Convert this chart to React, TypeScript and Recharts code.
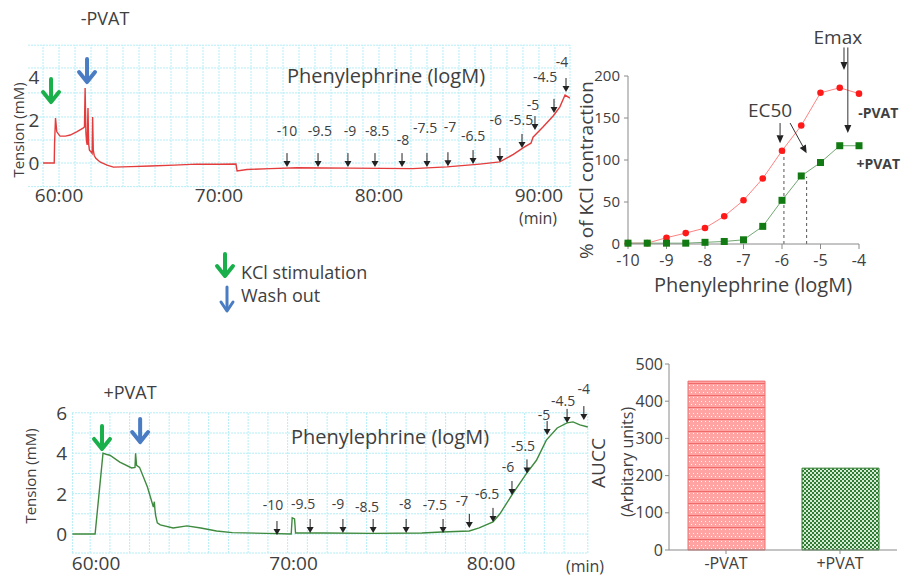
import React from 'react';
import {
  LineChart,
  Line,
  XAxis,
  YAxis,
  ReferenceLine,
  ReferenceDot,
  BarChart,
  Bar,
  Cell,
} from 'recharts';

const W = 904;
const H = 579;
const FONT = '"Open Sans", Lato, sans-serif';
const INK = '#404040';

// -PVAT tension trace (min, mN)
const topTime = [59.0, 59.7, 59.72, 59.78, 59.86, 60.06, 60.4, 60.7, 61.1, 61.5, 61.59, 61.63, 61.68, 61.72, 61.76, 61.81, 61.85, 61.9, 62.02, 62.07, 62.1, 62.14, 62.2, 62.3, 62.56, 63.0, 63.4, 64.5, 65.7, 67.2, 68.6, 70.0, 71.06, 71.13, 71.75, 73.2, 74.9, 76.5, 78.2, 80.2, 82.1, 84.25, 86.3, 87.55, 88.4, 89.1, 89.5, 89.63, 90.25, 90.9, 91.3, 91.63, 91.94];
const topTension = [0, 0, 0.9, 2.09, 1.45, 1.25, 1.25, 1.3, 1.45, 1.62, 1.68, 3.49, 1.4, 1.0, 0.84, 2.56, 0.9, 0.6, 0.5, 0.45, 2.14, 0.6, 0.35, 0.22, 0.05, -0.1, -0.19, -0.17, -0.14, -0.1, -0.05, -0.06, -0.05, -0.37, -0.3, -0.26, -0.22, -0.23, -0.24, -0.25, -0.26, -0.18, -0.05, 0.05, 0.4, 0.75, 0.92, 1.2, 1.67, 2.2, 2.6, 3.16, 3.02];
const topDoseTime = [74.25, 76.19, 78.06, 79.75, 81.44, 83.0, 84.31, 85.88, 87.56, 88.94, 89.75, 90.94, 91.69];
const topDoseTip = [-0.19, -0.19, -0.19, -0.19, -0.19, -0.19, -0.15, -0.05, 0.05, 0.7, 1.53, 2.33, 3.3];
const topLabelTime = [74.25, 76.31, 78.19, 79.88, 81.5, 82.88, 84.44, 85.88, 87.3, 88.88, 89.63, 90.38, 91.44];
const topLabelY = [1.53, 1.53, 1.53, 1.53, 1.07, 1.63, 1.72, 1.3, 2.0, 2.0, 2.74, 4.0, 4.7];

// +PVAT tension trace (min, mN)
const botTime = [58.8, 59.95, 60.15, 60.35, 60.5, 60.7, 61.2, 61.8, 61.97, 62.0, 62.05, 62.2, 62.6, 62.9, 62.95, 62.98, 63.02, 63.1, 63.25, 63.9, 64.6, 65.3, 66.1, 66.9, 68.6, 69.88, 69.93, 70.05, 70.1, 71.5, 74.0, 76.5, 77.5, 78.9, 79.4, 80.1, 80.45, 81.1, 81.8, 82.3, 82.8, 83.35, 83.85, 84.15, 84.5, 84.9];
const botTension = [0, 0, 2.0, 4.0, 3.95, 3.9, 3.56, 3.27, 3.3, 4.0, 3.4, 3.3, 2.33, 1.34, 1.6, 1.2, 0.9, 0.55, 0.45, 0.3, 0.4, 0.3, 0.15, 0.07, 0.03, 0.0, 0.8, 0.75, 0.05, 0.05, 0.03, 0.05, 0.1, 0.15, 0.3, 0.6, 1.0, 2.0, 3.0, 3.65, 4.65, 5.25, 5.5, 5.55, 5.4, 5.3];
const botDoseTime = [69.16, 70.84, 72.5, 74.03, 75.7, 77.57, 78.9, 80.1, 81.06, 81.82, 82.84, 83.85, 84.7];
const botDoseTip = [-0.05, 0.05, 0.05, 0.05, 0.05, 0.05, 0.3, 0.6, 1.93, 3.0, 4.9, 5.5, 5.64];
const botLabelTime = [68.96, 70.48, 72.25, 73.72, 75.65, 77.16, 78.53, 79.8, 80.86, 81.62, 82.68, 83.65, 84.7];
const botLabelY = [1.44, 1.49, 1.49, 1.34, 1.49, 1.44, 1.68, 2.03, 3.32, 4.4, 5.9, 6.63, 7.2];

const doseLabels = ['-10', '-9.5', '-9', '-8.5', '-8', '-7.5', '-7', '-6.5', '-6', '-5.5', '-5', '-4.5', '-4'];

// concentration-response (% of KCl contraction)
const logM = [-10, -9.5, -9, -8.5, -8, -7.5, -7, -6.5, -6, -5.5, -5, -4.5, -4];
const minusPvat = [1, 1, 7.5, 13, 19, 33, 52, 78, 111, 141, 180, 186, 179];
const plusPvat = [1, 1, 1, 1, 2, 3, 5, 21, 52, 81, 97, 117, 117];

// area under concentration curve
const groups = ['-PVAT', '+PVAT'];
const aucc = [454, 220];

const topData = topTime.map((t, i) => ({ t, v: topTension[i] }));
const botData = botTime.map((t, i) => ({ t, v: botTension[i] }));
const doseData = logM.map((x, i) => ({ x, minus: minusPvat[i], plus: plusPvat[i] }));
const barData = groups.map((g, i) => ({ g, v: aucc[i] }));

const abs: React.CSSProperties = { position: 'absolute', left: 0, top: 0 };

function SmallArrow(p: any) {
  const { cx, cy } = p;
  return (
    <g>
      <line x1={cx} y1={cy - 14} x2={cx} y2={cy - 5} stroke="#222" strokeWidth={1} />
      <path d={`M${cx - 3.5},${cy - 6} L${cx + 3.5},${cy - 6} L${cx},${cy} Z`} fill="#222" />
    </g>
  );
}

const bigArrow = (color: string) => (p: any) => {
  const { cx, cy } = p;
  return (
    <g stroke={color} strokeWidth={4} strokeLinecap="round" strokeLinejoin="round" fill="none">
      <line x1={cx} y1={cy - 24} x2={cx} y2={cy - 2} />
      <polyline points={`${cx - 8},${cy - 11} ${cx},${cy - 1} ${cx + 8},${cy - 11}`} />
    </g>
  );
};

const textAt = (label: string, size: number, weight = 'normal', color = INK) => (p: any) => (
  <text x={p.cx} y={p.cy} textAnchor="middle" dominantBaseline="central" fontSize={size}
    fontWeight={weight} fill={color} fontFamily={FONT}>{label}</text>
);

function ArrowLine(p: any) {
  const { x1, y1, x2, y2 } = p;
  const a = Math.atan2(y2 - y1, x2 - x1);
  const bx = x2 - 8 * Math.cos(a);
  const by = y2 - 8 * Math.sin(a);
  const px = -Math.sin(a) * 3.5;
  const py = Math.cos(a) * 3.5;
  return (
    <g>
      <line x1={x1} y1={y1} x2={bx} y2={by} stroke="#333" strokeWidth={1} />
      <path d={`M${x2},${y2} L${bx + px},${by + py} L${bx - px},${by - py} Z`} fill="#222" />
    </g>
  );
}

function Square(p: any) {
  const { cx, cy } = p;
  if (cx == null || cy == null) return null;
  return <rect key={`sq-${cx}`} x={cx - 3.5} y={cy - 3.5} width={7} height={7} fill="#127a12" />;
}

function Txt({ x, y, size, children, rotate, weight }: any) {
  return (
    <div style={{
      position: 'absolute', left: x, top: y, fontSize: size, color: INK, fontFamily: FONT,
      whiteSpace: 'nowrap', fontWeight: weight || 'normal', lineHeight: 1,
      transform: `translate(-50%, -50%)${rotate ? ' rotate(-90deg)' : ''}`,
    }}>{children}</div>
  );
}

function Trace(props: any) {
  const { data, color, margin, xDomain, yDomain, yTicks, xTicks, gridX, gridY, xTickMargin,
    yTickAnchor, yTickDx, doseTime, doseTip, labelTime, labelY, kcl, wash } = props;
  return (
    <LineChart width={W} height={H} margin={margin} data={data} style={abs}>
      <XAxis type="number" dataKey="t" domain={xDomain} ticks={xTicks} allowDataOverflow height={30}
        axisLine={false} tickLine={false} tickSize={0} tickMargin={xTickMargin}
        tickFormatter={(v: number) => `${v}:00`} tick={{ fontSize: 19, fill: INK, fontFamily: FONT }} />
      <YAxis type="number" domain={yDomain} ticks={yTicks} allowDataOverflow width={20}
        axisLine={false} tickLine={false} tickSize={0} tickMargin={0}
        tick={(p: any) => (
          <text x={p.x + yTickDx} y={p.y} textAnchor={yTickAnchor} dominantBaseline="central"
            fontSize={19} fill={INK} fontFamily={FONT}>{p.payload.value}</text>
        )} />
      {gridX.map((x: number) => (
        <ReferenceLine key={'gx' + x} x={x} stroke="#b4eef7" strokeDasharray="2 1" />
      ))}
      {gridY.map((y: number) => (
        <ReferenceLine key={'gy' + y} y={y} stroke="#b4eef7" strokeDasharray="2 1" />
      ))}
      <Line type="linear" dataKey="v" stroke={color} strokeWidth={1.4} dot={false} isAnimationActive={false} />
      {doseTime.map((t: number, i: number) => (
        <ReferenceDot key={'a' + i} x={t} y={doseTip[i]} ifOverflow="visible" shape={SmallArrow} />
      ))}
      {labelTime.map((t: number, i: number) => (
        <ReferenceDot key={'l' + i} x={t} y={labelY[i]} ifOverflow="visible" shape={textAt(doseLabels[i], 14)} />
      ))}
      <ReferenceDot x={kcl[0]} y={kcl[1]} ifOverflow="visible" shape={bigArrow('#19b04b')} />
      <ReferenceDot x={wash[0]} y={wash[1]} ifOverflow="visible" shape={bigArrow('#4a7cc4')} />
    </LineChart>
  );
}

const topGridX = [59, 60, 61, 62, 63, 64, 65, 66, 67, 68, 69, 70, 71, 72, 73, 74, 75, 76, 77, 78, 79, 80, 81, 82, 83, 84, 85, 86, 87, 88, 89, 90, 91, 91.94];
const topGridY = [-1.1, 0, 1.07, 2.14, 3.26, 4.42, 5.48];
const botGridX = [58.8, 59.7, 60.7, 61.7, 62.7, 63.7, 64.7, 65.7, 66.7, 67.7, 68.7, 69.7, 70.7, 71.7, 72.7, 73.7, 74.7, 75.7, 76.7, 77.7, 78.7, 79.7, 80.7, 81.7, 82.7, 83.7, 84.9];
const botGridY = [-0.94, 0, 1, 2, 3, 4, 5, 6];

const tickFont = { fontSize: 15, fill: INK, fontFamily: FONT };

export default function App() {
  return (
    <div style={{ ...abs, width: W, height: H, background: '#fff', overflow: 'hidden' }}>
      <svg width={0} height={0} style={{ position: 'absolute' }}>
        <defs>
          <pattern id="redFill" width="4" height="12" patternUnits="userSpaceOnUse">
            <rect width="4" height="12" fill="#ffa3a3" />
            <rect x="1" y="1" width="1" height="1" fill="#fff" />
            <rect x="1" y="5" width="1" height="1" fill="#fff" />
            <rect x="3" y="8" width="1" height="1" fill="#fff" />
            <rect x="0" y="11" width="4" height="1" fill="#f06a6a" />
          </pattern>
          <pattern id="greenFill" width="4" height="4" patternUnits="userSpaceOnUse">
            <rect width="4" height="4" fill="#d6ead6" />
            <rect width="2" height="2" fill="#2e7d32" />
            <rect x="2" y="2" width="2" height="2" fill="#2e7d32" />
          </pattern>
        </defs>
      </svg>

      <Trace data={topData} color="#e43c3c"
        margin={{ top: 45, left: 8, right: W - 570, bottom: H - 187 - 30 }}
        xDomain={[58.06, 91.94]} yDomain={[-1.116, 5.488]} xTicks={[60, 70, 80, 90]} yTicks={[0, 2, 4]}
        gridX={topGridX} gridY={topGridY} xTickMargin={2} yTickAnchor="middle" yTickDx={6}
        doseTime={topDoseTime} doseTip={topDoseTip} labelTime={topLabelTime} labelY={topLabelY}
        kcl={[59.5, 2.79]} wash={[61.75, 3.72]} />

      <Trace data={botData} color="#3e8a3e"
        margin={{ top: 412, left: 52, right: W - 588, bottom: H - 553 - 30 }}
        xDomain={[58.78, 84.91]} yDomain={[-0.94, 6.04]} xTicks={[60, 70, 80]} yTicks={[0, 2, 4, 6]}
        gridX={botGridX} gridY={botGridY} xTickMargin={4} yTickAnchor="end" yTickDx={-5}
        doseTime={botDoseTime} doseTip={botDoseTip} labelTime={botLabelTime} labelY={botLabelY}
        kcl={[60.3, 4.16]} wash={[62.23, 4.5]} />

      <LineChart width={W} height={H} data={doseData} style={abs}
        margin={{ top: 76, left: 628 - 40, right: W - 859, bottom: H - 244 - 40 }}>
        <XAxis type="number" dataKey="x" domain={[-10, -4]} ticks={[-10, -9, -8, -7, -6, -5, -4]} height={40}
          stroke="#8a8a8a" tickSize={5} tickMargin={6} tick={{ ...tickFont, fontSize: 16 }} />
        <YAxis type="number" domain={[0, 200]} ticks={[0, 50, 100, 150, 200]} width={40}
          stroke="#8a8a8a" tickSize={4} tickMargin={4} tick={tickFont} />
        <ReferenceLine segment={[{ x: -5.95, y: 0 }, { x: -5.95, y: 110 }]} stroke="#555" strokeDasharray="3 3" />
        <ReferenceLine segment={[{ x: -5.36, y: 0 }, { x: -5.36, y: 80 }]} stroke="#555" strokeDasharray="3 3" />
        <Line type="linear" dataKey="minus" stroke="#ff8282" strokeWidth={1} isAnimationActive={false}
          dot={{ r: 3.3, fill: '#ff1a1a', stroke: 'none' }} />
        <Line type="linear" dataKey="plus" stroke="#72a872" strokeWidth={1} isAnimationActive={false}
          dot={Square} />
        <ReferenceLine segment={[{ x: -6.05, y: 144 }, { x: -6.05, y: 120 }]} ifOverflow="visible" shape={ArrowLine} />
        <ReferenceLine segment={[{ x: -5.79, y: 144 }, { x: -5.36, y: 108 }]} ifOverflow="visible" shape={ArrowLine} />
        <ReferenceLine segment={[{ x: -4.39, y: 234 }, { x: -4.39, y: 207 }]} ifOverflow="visible" shape={ArrowLine} />
        <ReferenceLine segment={[{ x: -4.29, y: 234 }, { x: -4.29, y: 132 }]} ifOverflow="visible" shape={ArrowLine} />
        <ReferenceDot x={-6.31} y={159} ifOverflow="visible" shape={textAt('EC50', 19)} />
        <ReferenceDot x={-4.55} y={246} ifOverflow="visible" shape={textAt('Emax', 19)} />
        <ReferenceDot x={-3.5} y={156} ifOverflow="visible" shape={textAt('-PVAT', 14, 'bold')} />
        <ReferenceDot x={-3.5} y={96} ifOverflow="visible" shape={textAt('+PVAT', 14, 'bold')} />
      </LineChart>

      <BarChart width={W} height={H} data={barData} style={abs}
        margin={{ top: 364, left: 669 - 40, right: W - 897, bottom: H - 550 - 25 }}>
        <XAxis dataKey="g" height={25} stroke="#8a8a8a" tickSize={4} tickMargin={4} tick={{ ...tickFont, fontSize: 16 }} />
        <YAxis type="number" domain={[0, 500]} ticks={[0, 100, 200, 300, 400, 500]} width={40}
          stroke="#8a8a8a" tickSize={4} tickMargin={2} tick={{ ...tickFont, fontSize: 16 }} />
        <Bar dataKey="v" barSize={77} isAnimationActive={false}>
          <Cell fill="url(#redFill)" stroke="#f07070" />
          <Cell fill="url(#greenFill)" stroke="#2a7a2a" />
        </Bar>
      </BarChart>

      <Txt x={105} y={18} size={18}>-PVAT</Txt>
      <Txt x={130} y={392} size={18}>+PVAT</Txt>
      <Txt x={386} y={76} size={20}>Phenylephrine (logM)</Txt>
      <Txt x={390} y={437} size={20}>Phenylephrine (logM)</Txt>
      <Txt x={538} y={218} size={16}>(min)</Txt>
      <Txt x={585} y={566} size={16}>(min)</Txt>
      <Txt x={18} y={130} size={15} rotate>Tension (mM)</Txt>
      <Txt x={30} y={476} size={15} rotate>Tension (mM)</Txt>
      <Txt x={586} y={170} size={19} rotate>% of KCl contraction</Txt>
      <Txt x={753} y={285} size={20}>Phenylephrine (logM)</Txt>
      <Txt x={598} y={463} size={19} rotate>AUCC</Txt>
      <Txt x={627} y={462} size={16} rotate>(Arbitary units)</Txt>

      <svg width={40} height={80} style={{ position: 'absolute', left: 205, top: 245 }}>
        <g stroke="#19b04b" strokeWidth={4} strokeLinecap="round" strokeLinejoin="round" fill="none">
          <line x1={20} y1={9} x2={20} y2={30} />
          <polyline points="12,21 20,31 28,21" />
        </g>
        <g stroke="#4a7cc4" strokeWidth={3} strokeLinecap="round" strokeLinejoin="round" fill="none">
          <line x1={22} y1={42} x2={22} y2={65} />
          <polyline points="16,57 22,66 28,57" />
        </g>
      </svg>
      <div style={{ position: 'absolute', left: 241, top: 261, fontSize: 18, color: INK, fontFamily: FONT, lineHeight: '23px' }}>
        KCl stimulation<br />Wash out
      </div>
    </div>
  );
}
